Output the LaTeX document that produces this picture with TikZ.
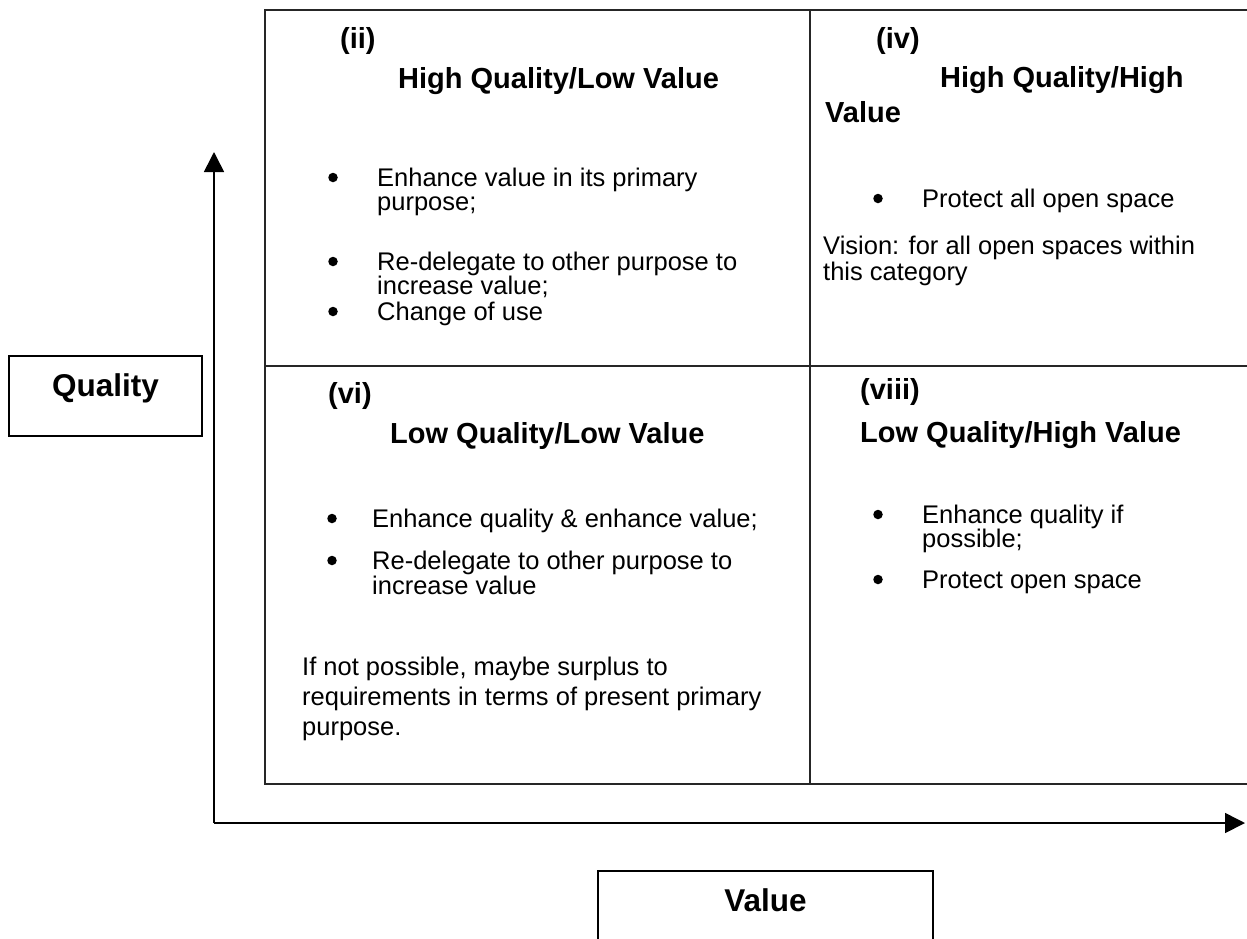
\documentclass[tikz,border=0pt]{standalone}
\usepackage{fontspec}
\setmainfont{Liberation Sans}
\usetikzlibrary{arrows.meta}
\begin{document}
\begin{tikzpicture}[x=1pt,y=-1pt,
  line/.style={draw=black!85,line width=1.6pt},
  axis/.style={draw=black,line width=1.6pt,-{Triangle[length=20pt,width=20pt]}},
  txt/.style={anchor=base west,inner sep=0pt,font=\fontsize{25.5}{30}\selectfont},
  bul/.style={circle,fill=black,inner sep=0pt,minimum size=9.5pt,yshift=8.5pt},
  head/.style={anchor=base west,inner sep=0pt,font=\fontsize{29}{34}\selectfont\bfseries},
  lab/.style={anchor=base,inner sep=0pt,font=\fontsize{31.5}{36}\selectfont\bfseries}]
\useasboundingbox (0,0) rectangle (1247,938);
% grid
\coordinate (gTL) at (265,10);
\coordinate (gTR) at (1247,10);
\coordinate (gBL) at (265,784);
\coordinate (gBR) at (1247,784);
\coordinate (mT) at (810,10);
\coordinate (mB) at (810,784);
\coordinate (hL) at (265,366);
\coordinate (hR) at (1247,366);
\draw[line] (gTR) -- (gTL) -- (gBL) -- (gBR);
\draw[line] (mT) -- (mB);
\draw[line] (hL) -- (hR);
% axes
\coordinate (O) at (214,823);
\coordinate (yT) at (214,152);
\coordinate (xT) at (1245,823);
\draw[axis] (O) -- (yT);
\draw[axis] (O) -- (xT);
% label boxes
\draw[line,draw=black] (9,356) rectangle (202,436);
\node[lab] (qual) at (105.5,396) {Quality};
\draw[line,draw=black] (598,940) -- (598,871) -- (933,871) -- (933,940);
\node[lab] (val) at (765.5,911) {Value};
% Q1
\node[head] (q1a) at (340,48) {(ii)};
\node[head] (q1b) at (398,88) {High Quality/Low Value};
\node[bul] (q1d1) at (333,186) {};
\node[txt] (q1c) at (377,186) {Enhance value in its primary};
\node[txt] (q1d) at (377,210) {purpose;};
\node[bul] (q1d2) at (333,270) {};
\node[txt] (q1e) at (377,270) {Re-delegate to other purpose to};
\node[txt] (q1f) at (377,294) {increase value;};
\node[bul] (q1d3) at (333,320) {};
\node[txt] (q1g) at (377,320) {Change of use};
% Q2
\node[head] (q2a) at (876,48) {(iv)};
\node[head] (q2b) at (940,87) {High Quality/High};
\node[head] (q2c) at (825,122) {Value};
\node[bul] (q2d1) at (878,207) {};
\node[txt] (q2d) at (922,207) {Protect all open space};
\node[txt] (q2e) at (823,254) {Vision: for all open spaces within};
\node[txt] (q2f) at (823,280) {this category};
% Q3
\node[head] (q3a) at (328,403) {(vi)};
\node[head] (q3b) at (390,443) {Low Quality/Low Value};
\node[bul] (q3d1) at (332,527) {};
\node[txt] (q3c) at (372,527) {Enhance quality \& enhance value;};
\node[bul] (q3d2) at (332,569) {};
\node[txt] (q3d) at (372,569) {Re-delegate to other purpose to};
\node[txt] (q3e) at (372,594) {increase value};
\node[txt] (q3f) at (302,675) {If not possible, maybe surplus to};
\node[txt] (q3g) at (302,705) {requirements in terms of present primary};
\node[txt] (q3h) at (302,735) {purpose.};
% Q4
\node[head] (q4a) at (860,399) {(viii)};
\node[head] (q4b) at (860,442) {Low Quality/High Value};
\node[bul] (q4d1) at (878,523) {};
\node[txt] (q4c) at (922,523) {Enhance quality if};
\node[txt] (q4d) at (922,547) {possible;};
\node[bul] (q4d2) at (878,588) {};
\node[txt] (q4e) at (922,588) {Protect open space};
\end{tikzpicture}
\end{document}
